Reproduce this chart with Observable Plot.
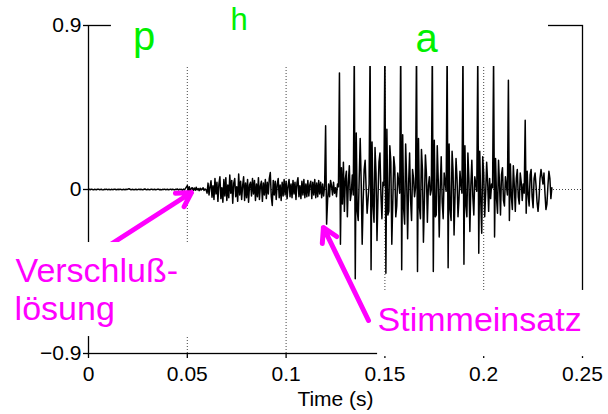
<!DOCTYPE html>
<html>
<head>
<meta charset="utf-8">
<script src="https://cdn.jsdelivr.net/npm/d3@7"></script>
<script src="https://cdn.jsdelivr.net/npm/@observablehq/plot@0.6"></script>
<style>
  html, body { margin: 0; padding: 0; background: #fff; }
  #chart { width: 608px; height: 414px; }
</style>
</head>
<body>
<div id="chart"></div>
<script>
// ---- data (amplitude in thousandths of full scale, one sample every 0.5 ms) ----
const sampleInterval = 0.0005; // seconds
const silence = [
  0,1,-1,2,0,-2,1,0,-1,1,2,-1,0,1,-1,-2,1,0,2,-1,
  0,1,-2,1,0,-1,2,1,-1,0,1,-1,2,0,-2,1,0,-1,1,0,
  2,4,1,-1,0,1,-2,0,1,-1,0,2,-1,1,0,-2,1,3,0,-1,
  1,0,-2,1,2,-1,0,1,-1,0,2,1,-1,0,-2,1,0,2,-1,0,
  1,-1,0,2,-1,1,0,-2,1,0,3,-2,1,0,2,-4,2,-3,5,12
];
const release = [22,-8,15,-12,6,10,-6,8,-4,12,-2,5,-6,7,-3,4,9,-5,3,-2];
const aspiration = [
  -20,35,-30,15,48,-42,20,-55,60,-25,40,-65,30,70,-50,10,-70,55,-35,65,
  -60,25,-45,80,-20,50,-75,35,60,-40,15,-65,85,-30,45,-55,20,70,-60,35,
  -45,55,-70,25,40,-35,60,-25,50,-60,30,-40,65,-55,20,45,-65,35,-30,55,
  -50,40,-25,60,93,-40,-88,50,-30,45,-55,30,60,-45,25,-60,40,-35,55,-30,
  45,-50,20,55,-40,30,-45,50,-25,40,-55,35,65,-40,20,-50,45,-30,55,-45,
  30,-40,50,-35,25,45,-50,40,-30,55,-45,35,-40,50,-25,40,-45,30,-35,20
];
const voicing = [
  350,-190,-60,30,-40,50,20,-30,40,-20,10,-40,30,15,
  640,-300,120,-80,150,-120,60,100,-150,40,130,-60,-20,80,-30,
  760,-490,310,-120,-170,60,280,40,-300,-60,110,160,10,-130,-50,30,
  770,-440,260,-90,-180,230,90,-280,-40,150,200,-30,-160,40,20,
  780,-460,330,-140,-120,240,150,-300,-70,180,120,-150,-90,90,40,-20,
  780,-440,300,-110,-190,250,60,-270,30,200,-60,-170,110,60,-40,10,
  790,-450,280,-100,-160,220,110,-290,-60,190,90,-180,20,70,-30,0,
  780,-450,270,-150,-140,240,50,-260,10,180,-70,-160,90,40,-10,
  770,-430,250,-110,-170,210,100,-250,-30,170,60,-150,-50,100,20,-20,
  760,-410,240,-90,-150,200,60,-230,20,160,-40,-140,70,30,-10,
  740,-350,210,-60,-240,180,90,-150,-20,150,40,-120,60,-50,30,10,
  720,-260,170,-50,-130,160,30,-140,80,120,-60,-90,70,20,-30,
  600,-170,140,-40,-110,130,20,-120,60,110,-40,-80,90,40,-60,30,-20,
  380,-130,100,-30,-90,80,110,-40,-100,60,90,20,-70,-120,-50,60,110,70,30,90,-20,-110,-80,20,100,60,-50,10
];

const xTicks = [0, 0.05, 0.1, 0.15, 0.2, 0.25];
const xTickLabels = ["0", "0.05", "0.1", "0.15", "0.2", "0.25"];
const gridTimes = [0.05, 0.1, 0.15, 0.2];
const yTicks = [-0.9, 0, 0.9];
const yTickLabels = ["\u22120.9", "0", "0.9"];

const phonemes = ["p", "a"];
const phonemeTime = [0.0281, 0.1711];
const phonemeAmp = [0.763, 0.7536];
const phonemeSmall = ["h"];
const phonemeSmallTime = [0.0762];
const phonemeSmallAmp = [0.873];

const annotationText = ["Verschluß-", "lösung", "Stimmeinsatz"];
const annotationTime = [-0.0369, -0.0374, 0.1463];
const annotationAmp = [-0.509, -0.716, -0.778];

// arrows: tail -> tip
const arrowTailTime = [0.0076, 0.1417];
const arrowTailAmp = [-0.3266, -0.719];
const arrowTipTime = [0.0521, 0.1189];
const arrowTipAmp = [-0.0165, -0.2086];

// white label boxes
const boxTime1 = [0.0116, -0.06, 0.1463];
const boxTime2 = [0.2328, 0.0516, 0.27];
const boxAmp1 = [0.675, -0.291, -0.554];
const boxAmp2 = [1.05, -0.807, -0.917];

// ---- build tables ----
const amplitude = [...silence, ...release, ...aspiration, ...voicing];
const wave = amplitude.map((a, i) => ({t: i * sampleInterval, v: a / 1000}));
const arrows = arrowTailTime.map((d, i) => ({x1: d, y1: arrowTailAmp[i], x2: arrowTipTime[i], y2: arrowTipAmp[i]}));
const boxes = boxTime1.map((d, i) => ({x1: d, x2: boxTime2[i], y1: boxAmp1[i], y2: boxAmp2[i]}));
const ann = annotationText.map((s, i) => ({s, t: annotationTime[i], v: annotationAmp[i]}));
const ph = phonemes.map((s, i) => ({s, t: phonemeTime[i], v: phonemeAmp[i]}));
const phS = phonemeSmall.map((s, i) => ({s, t: phonemeSmallTime[i], v: phonemeSmallAmp[i]}));

const FONT = "'Liberation Sans', Arial, Helvetica, sans-serif";

const chart = Plot.plot({
  width: 608,
  height: 414,
  marginLeft: 88,
  marginRight: 26,
  marginTop: 25,
  marginBottom: 61,
  x: {domain: [0, 0.25]},
  y: {domain: [-0.9, 0.9]},
  style: {fontFamily: FONT, background: "white", color: "black", overflow: "visible"},
  marks: [
    Plot.ruleX(gridTimes, {stroke: "#444", strokeDasharray: "1,2", strokeWidth: 1}),
    Plot.ruleY([0], {stroke: "#444", strokeDasharray: "1,2", strokeWidth: 1}),
    Plot.frame({stroke: "black", strokeWidth: 1.3}),
    Plot.axisY({ticks: yTicks, tickSize: 5, tickPadding: 2, fontSize: 21, label: null,
      tickFormat: d => yTickLabels[yTicks.indexOf(d)], strokeWidth: 1.3}),
    Plot.axisX({ticks: xTicks, tickSize: 5, tickPadding: 8, fontSize: 21, label: null,
      tickFormat: d => xTickLabels[xTicks.indexOf(d)], strokeWidth: 1.3}),
    Plot.line(wave, {x: "t", y: "v", stroke: "black", strokeWidth: 1.5}),
    Plot.arrow(arrows, {x1: "x1", y1: "y1", x2: "x2", y2: "y2", stroke: "#ff00ff", strokeWidth: 5, headLength: 4.8, headAngle: 60}),
    Plot.rect(boxes, {x1: "x1", x2: "x2", y1: "y1", y2: "y2", fill: "white"}),
    Plot.text(ph, {x: "t", y: "v", text: "s", fill: "#00f000", fontSize: 40, lineAnchor: "bottom", textAnchor: "middle", fontFamily: FONT}),
    Plot.text(phS, {x: "t", y: "v", text: "s", fill: "#00f000", fontSize: 31, lineAnchor: "bottom", textAnchor: "middle", fontFamily: FONT}),
    Plot.text(ann, {x: "t", y: "v", text: "s", fill: "#ff00ff", fontSize: 34, lineAnchor: "bottom", textAnchor: "start", fontFamily: FONT}),
    Plot.text(["Time (s)"], {frameAnchor: "bottom", text: d => d, dy: 52, lineAnchor: "bottom", fontSize: 21, fill: "black", fontFamily: FONT})
  ]
});
document.getElementById("chart").appendChild(chart);
</script>
</body>
</html>
